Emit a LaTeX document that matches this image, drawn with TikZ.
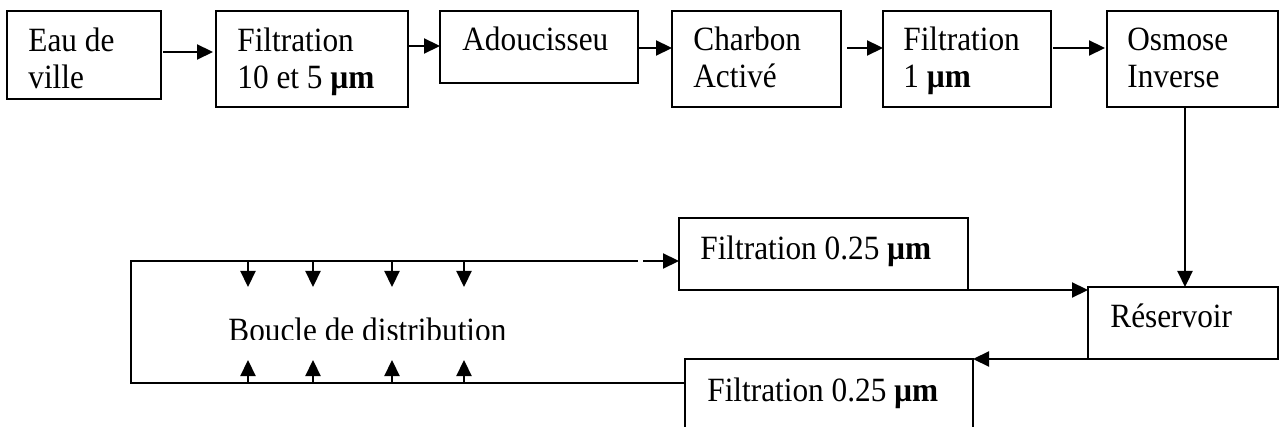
\documentclass[tikz,border=0pt]{standalone}
\usepackage{fontspec}
\setmainfont{Liberation Serif}[FakeStretch=0.92]
\usetikzlibrary{arrows.meta,calc,fit}
\begin{document}
\begin{tikzpicture}[x=0.5pt,y=-0.5pt,
  box/.style={draw, line width=0.9pt, inner sep=0pt, outer sep=0pt},
  txt/.style={inner sep=0pt, anchor=base west, align=left, font=\fontsize{17pt}{18.25pt}\selectfont},
  link/.style={line width=1.1pt},
  arr/.style={link, -{Triangle[length=8pt,width=7.5pt]}},
]
\clip (0,0) rectangle (1280,427);
\fill[white] (0,0) rectangle (1280,427);

% boxes
\node[box, fit={(7,11) (161,99)}] (eau) {};
\node[box, fit={(216,11) (408,107)}] (f10) {};
\node[box, fit={(440,11) (638,83)}] (adou) {};
\node[box, fit={(672,11) (841,107)}] (charb) {};
\node[box, fit={(883,11) (1051,107)}] (f1) {};
\node[box, fit={(1107,11) (1278,107)}] (osm) {};
\node[box, fit={(679,218) (968,290)}] (ft) {};
\node[box, fit={(1088,287) (1278,359)}] (res) {};
\node[box, fit={(685,359) (973,445)}] (fb) {};

% texts (two-line nodes are anchored on the baseline of their last line)
\node[txt] (eauT) at (28,88.5) {Eau de\\ville};
\node[txt] (f10T) at (237,88.5) {Filtration\\10 et 5 \textbf{µm}};
\node[txt] (adouT) at (462,51) {Adoucisseu};
\node[txt] (charbT) at (693,87.5) {Charbon\\Activé};
\node[txt] (f1T) at (903,87.5) {Filtration\\1 \textbf{µm}};
\node[txt] (osmT) at (1127,87.5) {Osmose\\Inverse};
\node[txt] (ftT) at (700,260) {Filtration 0.25 \textbf{µm}};
\node[txt] (resT) at (1110,328) {Réservoir};
\node[txt] (fbT) at (707,401) {Filtration 0.25 \textbf{µm}};
\begin{scope}
  \clip (200,300) rectangle (560,340);
  \node[txt] (boucle) at (228,342) {Boucle de distribution};
\end{scope}

% top row connectors
\draw[arr] ($(eau.east)+(2,-3)$) -- ($(f10.west)+(-3,-7)$);
\draw[arr] ($(f10.east)+(0,-13)$) -- ($(adou.west)+(0,-1)$);
\draw[arr] ($(adou.east)+(0,1)$) -- ($(charb.west)+(0,-11)$);
\draw[arr] ($(charb.east)+(6,-11)$) -- ($(f1.west)+(0,-11)$);
\draw[arr] ($(f1.east)+(2,-11)$) -- ($(osm.west)+(-2,-11)$);

% to reservoir and back
\draw[arr] ($(osm.south)+(-7.5,0)$) -- ($(res.north)+(2,0)$);
\draw[arr] (ft.south east) -- ($(res.north west)+(0,3)$);
\draw[arr] (res.south west) -- (fb.north east);

% distribution loop
\coordinate (lbl) at (131,383);
\coordinate (ltl) at (131,261);
\coordinate (gapA) at (638,261);
\coordinate (gapB) at (643,261);
\draw[link] ($(fb.north west)+(0,24)$) -- (lbl) -- (ltl) -- (gapA);
\draw[arr] (gapB) -- ($(ft.west)+(0,7)$);

\foreach \x [count=\i] in {248,313,392,464} {
  \coordinate (da\i) at (\x,261);
  \coordinate (db\i) at (\x,287);
  \draw[arr] (da\i) -- (db\i);
  \coordinate (ua\i) at (\x,383);
  \coordinate (ub\i) at (\x,360);
  \draw[arr] (ua\i) -- (ub\i);
}
\end{tikzpicture}
\end{document}
